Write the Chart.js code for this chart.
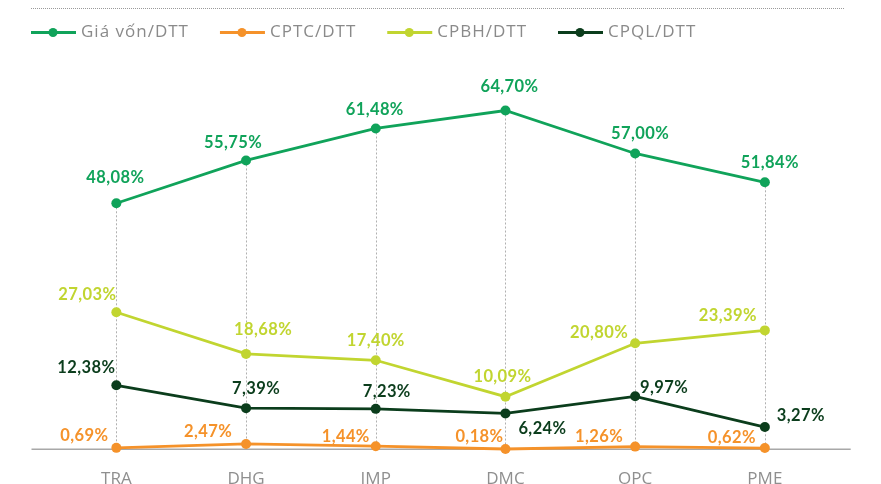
<!DOCTYPE html>
<html>
<head>
<meta charset="utf-8">
<script src="https://cdn.jsdelivr.net/npm/chart.js@4.4.1/dist/chart.umd.min.js"></script>
<style>
  html, body { margin: 0; padding: 0; background: #ffffff; }
  #wrap { width: 881px; height: 484px; }
</style>
</head>
<body>
<div id="wrap"><canvas id="costChart" width="881" height="484"></canvas></div>
<script>
// Data
const categories = ['TRA', 'DHG', 'IMP', 'DMC', 'OPC', 'PME'];
const seriesNames = ['Giá vốn/DTT', 'CPTC/DTT', 'CPBH/DTT', 'CPQL/DTT'];
const giaVon = [48.08, 55.75, 61.48, 64.70, 57.00, 51.84];
const cptc = [0.69, 2.47, 1.44, 0.18, 1.26, 0.62];
const cpbh = [27.03, 18.68, 17.40, 10.09, 20.80, 23.39];
const cpql = [12.38, 7.39, 7.23, 6.24, 9.97, 3.27];

// Each series sits on its own hidden axis (the original is not drawn to one scale)
const axisRanges = {
    yGia: [4.0, 73.75],
    yCptc: [0.04, 177.2],
    yCpbh: [-0.455, 77.62],
    yCpql: [-1.588, 83.32]
};

const colors = ['#10a35a', '#f5922a', '#c1d530', '#0b3d1c'];

// label nudges (dx, dy) from each point
const labelOffsets = [
    [[-1, -26], [-13, -18], [-1, -19], [4, -24], [5, -20], [5, -20]],
    [[-32, -12], [-38, -12], [-30, -10], [-26, -12], [-36, -10], [-33, -10]],
    [[-29, -18], [17, -24], [0, -20], [-3, -20], [-36, -11], [-37, -15]],
    [[-30, -18], [10, -19], [11, -17], [37, 15], [29, -9], [36, -11]]
];

const fmt = v => v.toFixed(2).replace('.', ',') + '%';

const guidePlugin = {
    id: 'guides',
    beforeDatasetsDraw(chart) {
        const ctx = chart.ctx;
        const area = chart.chartArea;
        ctx.save();
        // vertical dotted guides from the top point down to the base
        ctx.strokeStyle = '#b0b0b0';
        ctx.lineWidth = 1;
        ctx.setLineDash([2, 2]);
        categories.forEach((c, i) => {
            let top = area.bottom;
            let x = 0;
            chart.data.datasets.forEach((ds, d) => {
                const pt = chart.getDatasetMeta(d).data[i];
                if (pt.y < top) top = pt.y;
                x = pt.x;
            });
            ctx.beginPath();
            ctx.moveTo(Math.round(x) + 0.5, top);
            ctx.lineTo(Math.round(x) + 0.5, area.bottom);
            ctx.stroke();
        });
        // base line
        ctx.setLineDash([]);
        ctx.strokeStyle = '#a8a8a8';
        ctx.lineWidth = 1.5;
        ctx.beginPath();
        ctx.moveTo(area.left - 20, area.bottom);
        ctx.lineTo(area.right + 21, area.bottom);
        ctx.stroke();
        ctx.restore();
    },
    afterDatasetsDraw(chart) {
        const ctx = chart.ctx;
        ctx.save();
        ctx.font = '700 16.5px Lato';
        ctx.letterSpacing = '0.4px';
        ctx.textAlign = 'center';
        ctx.textBaseline = 'middle';
        chart.data.datasets.forEach((ds, d) => {
            const meta = chart.getDatasetMeta(d);
            ctx.fillStyle = ds.borderColor;
            meta.data.forEach((pt, i) => {
                const off = labelOffsets[d][i];
                ctx.fillText(fmt(ds.data[i]), pt.x + off[0], pt.y + off[1]);
            });
        });
        ctx.restore();
    },
    afterDraw(chart) {
        const ctx = chart.ctx;
        ctx.save();
        // dotted rule at the very top
        ctx.strokeStyle = '#9a9a9a';
        ctx.lineWidth = 1;
        ctx.setLineDash([1, 1]);
        ctx.beginPath();
        ctx.moveTo(31, 8.5);
        ctx.lineTo(845, 8.5);
        ctx.stroke();
        ctx.setLineDash([]);

        // legend
        ctx.font = '17px "Open Sans"';
        ctx.letterSpacing = '1px';
        ctx.textBaseline = 'middle';
        ctx.textAlign = 'left';
        let x = 31;
        const y = 32.5;
        chart.data.datasets.forEach((ds) => {
            ctx.strokeStyle = ds.borderColor;
            ctx.fillStyle = ds.borderColor;
            ctx.lineWidth = 3;
            ctx.beginPath();
            ctx.moveTo(x, y);
            ctx.lineTo(x + 45, y);
            ctx.stroke();
            ctx.beginPath();
            ctx.arc(x + 22, y, 4.5, 0, Math.PI * 2);
            ctx.fill();
            ctx.fillStyle = '#8a8a8a';
            ctx.fillText(ds.label, x + 50, y);
            x += 50 + ctx.measureText(ds.label).width + 31;
        });
        ctx.restore();
    }
};

function makeSet(label, data, color, axis) {
    return {
        label: label,
        data: data,
        yAxisID: axis,
        borderColor: color,
        backgroundColor: color,
        pointBackgroundColor: color,
        pointBorderWidth: 0,
        pointRadius: 5,
        borderWidth: 2.8,
        tension: 0,
        clip: false
    };
}

const hiddenAxis = (range) => ({
    display: false,
    min: range[0],
    max: range[1]
});

new Chart(document.getElementById('costChart'), {
    type: 'line',
    data: {
        labels: categories,
        datasets: [
            makeSet(seriesNames[0], giaVon, colors[0], 'yGia'),
            makeSet(seriesNames[1], cptc, colors[1], 'yCptc'),
            makeSet(seriesNames[2], cpbh, colors[2], 'yCpbh'),
            makeSet(seriesNames[3], cpql, colors[3], 'yCpql')
        ]
    },
    options: {
        responsive: false,
        animation: false,
        devicePixelRatio: 1,
        layout: {
            padding: { top: 60, left: 51.5, right: 51.3, bottom: 0 }
        },
        plugins: {
            legend: { display: false },
            tooltip: { enabled: false }
        },
        scales: {
            x: {
                offset: true,
                grid: { display: false, drawTicks: false },
                border: { display: false },
                ticks: {
                    color: '#8f8f8f',
                    padding: 23,
                    font: { family: 'Open Sans', size: 17, lineHeight: 0.86 }
                },
                afterFit(scale) {
                    scale.height = 34.7;
                }
            },
            yGia: hiddenAxis(axisRanges.yGia),
            yCptc: hiddenAxis(axisRanges.yCptc),
            yCpbh: hiddenAxis(axisRanges.yCpbh),
            yCpql: hiddenAxis(axisRanges.yCpql)
        }
    },
    plugins: [guidePlugin]
});
</script>
</body>
</html>
